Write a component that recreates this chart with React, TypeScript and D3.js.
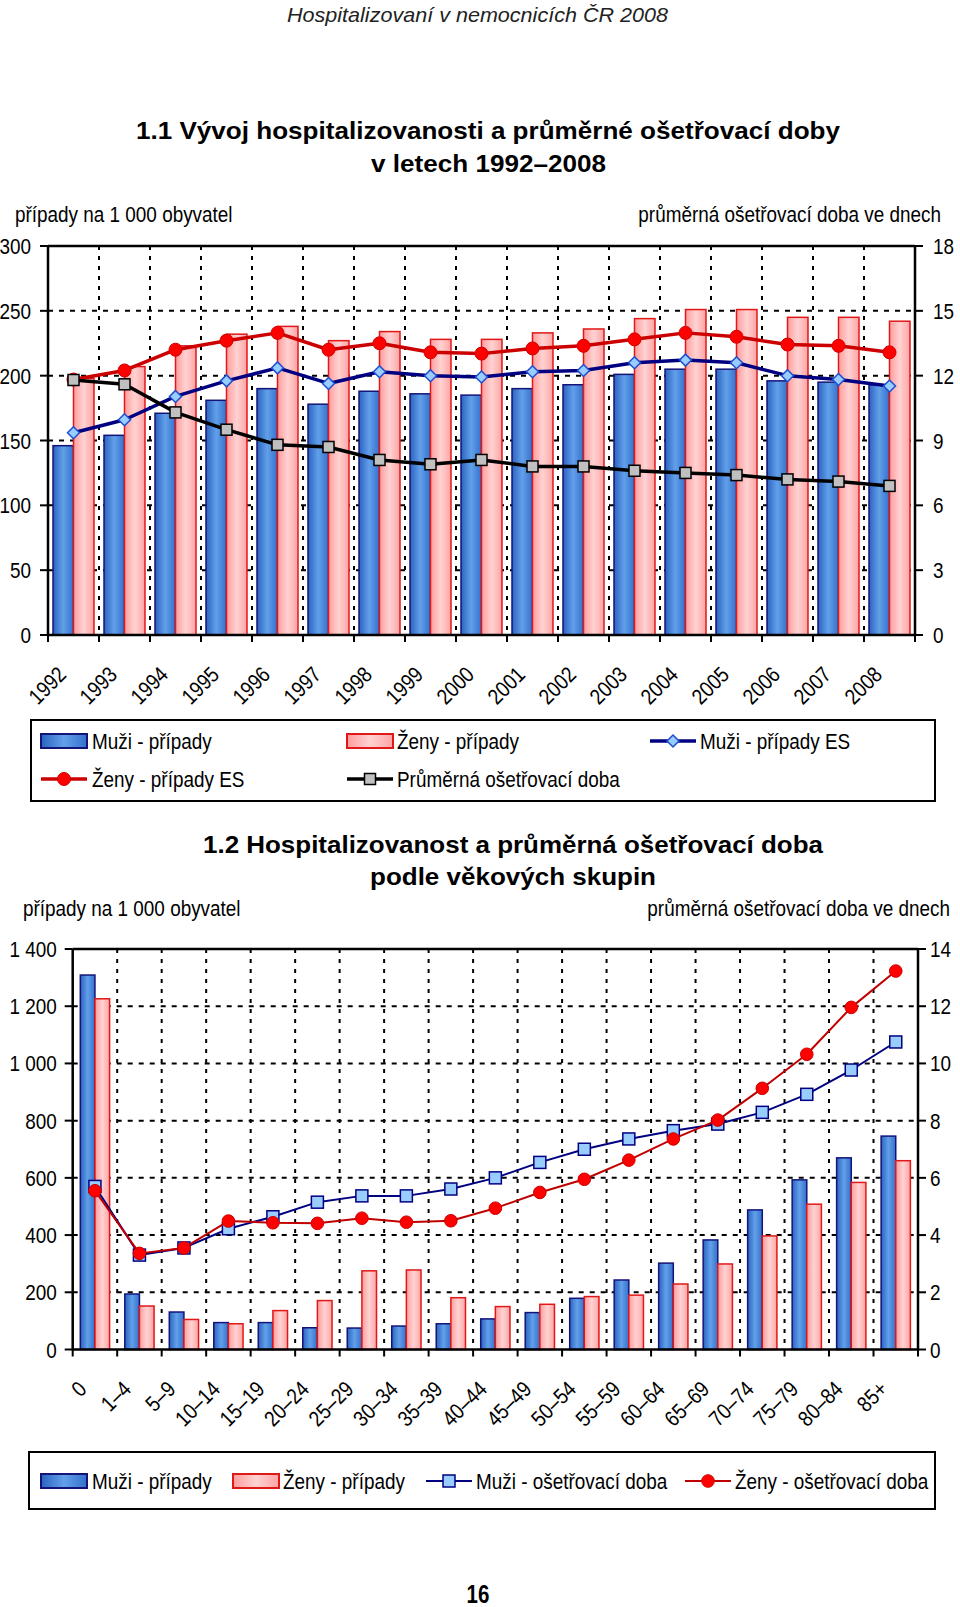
import React from 'react';
import * as d3 from 'd3';

// ---------- Data: chart 1.1 ----------
const years = ['1992','1993','1994','1995','1996','1997','1998','1999','2000','2001','2002','2003','2004','2005','2006','2007','2008'];
const muziPripady = [146,154,171,181,190,178,188,186,185,190,193,201,205,205,196,195,193];
const zenyPripady = [198,207,223,232,238,227,234,228,228,233,236,244,251,251,245,245,242];
const muziPripadyES = [156,166,184,196,206,194,203,200,199,203,204,210,212,210,200,197,192];
const zenyPripadyES = [197,204,220,227,233,220,225,218,217,221,223,228,233,230,224,223,218];
const prumernaDoba = [11.8,11.6,10.3,9.5,8.8,8.7,8.1,7.9,8.1,7.8,7.8,7.6,7.5,7.4,7.2,7.1,6.9];
const leftTicks1 = [0,50,100,150,200,250,300];
const rightTicks1 = [0,3,6,9,12,15,18];

// ---------- Data: chart 1.2 ----------
const ageGroups = ['0','1–4','5–9','10–14','15–19','20–24','25–29','30–34','35–39','40–44','45–49','50–54','55–59','60–64','65–69','70–74','75–79','80–84','85+'];
const muziPripadyVek = [1309,194,131,94,94,76,75,82,90,107,129,179,243,302,383,488,593,670,746];
const zenyPripadyVek = [1226,152,105,90,136,171,275,278,181,150,158,185,190,229,299,397,508,584,660];
const muziDobaVek = [5.7,3.3,3.55,4.22,4.64,5.15,5.37,5.37,5.61,6.0,6.54,7.0,7.36,7.65,7.88,8.29,8.92,9.77,10.75];
const zenyDobaVek = [5.55,3.36,3.55,4.49,4.43,4.41,4.59,4.45,4.5,4.94,5.49,5.95,6.62,7.36,8.02,9.13,10.32,11.96,13.23];
const leftTicks2 = [0,200,400,600,800,1000,1200,1400];
const rightTicks2 = [0,2,4,6,8,10,12,14];

const FONT = '"Liberation Sans", Arial, Helvetica, sans-serif';
const FS = 22;
const SX = 0.86;

const fmtThousands = (v: number) =>
  v >= 1000 ? `${Math.floor(v / 1000)} ${String(v % 1000).padStart(3, '0')}` : String(v);

function T(props: any) {
  const { x, y, children, anchor = 'start', size = FS, sx = SX, weight = 'normal', fontStyle = 'normal', fill = '#000', rotate = 0 } = props;
  return (
    <text
      transform={`translate(${x},${y}) rotate(${rotate}) scale(${sx},1)`}
      textAnchor={anchor}
      fontSize={size}
      fontFamily={FONT}
      fontWeight={weight}
      fontStyle={fontStyle}
      fill={fill}
    >
      {children}
    </text>
  );
}

function Marker({ type, x, y, s }: any) {
  if (type === 'diamond') {
    const h = s.size;
    return <path d={`M${x},${y - h}L${x + h},${y}L${x},${y + h}L${x - h},${y}Z`} fill={s.fill} stroke={s.stroke} strokeWidth={s.sw} />;
  }
  if (type === 'circle') {
    return <circle cx={x} cy={y} r={s.size} fill={s.fill} stroke={s.stroke} strokeWidth={s.sw} />;
  }
  const h = s.size;
  return <rect x={x - h} y={y - h} width={2 * h} height={2 * h} fill={s.fill} stroke={s.stroke} strokeWidth={s.sw} />;
}

function Chart(props: any) {
  const { cats, barsM, barsF, g, leftMax, leftTicks, rightMax, rightTicks, lines, padOuter, leftLabelDx, rightLabelDx, labelDx, labelDy } = props;
  const x = d3.scaleBand<string>().domain(cats).range([g.left, g.right]).paddingInner(0).paddingOuter(0);
  const step = x.bandwidth();
  const x1 = d3.scaleBand<string>().domain(['m', 'f']).range([0, step]).paddingInner(0).paddingOuter(padOuter);
  const yL = d3.scaleLinear().domain([0, leftMax]).range([g.bottom, g.top]);
  const yR = d3.scaleLinear().domain([0, rightMax]).range([g.bottom, g.top]);
  const boundaries = d3.range(0, cats.length + 1).map((k) => g.left + k * step);
  return (
    <g>
      {leftTicks.filter((t: number) => t > 0 && t < leftMax).map((t: number) => (
        <line key={'h' + t} x1={g.left} x2={g.right} y1={yL(t)} y2={yL(t)} stroke="#000" strokeWidth={2} strokeDasharray="5,6" />
      ))}
      {boundaries.slice(1, -1).map((bx: number, i: number) => (
        <line key={'v' + i} x1={bx} x2={bx} y1={g.top} y2={g.bottom} stroke="#000" strokeWidth={2} strokeDasharray="4,6" />
      ))}
      {cats.map((c: string, i: number) => (
        <g key={'b' + c}>
          <rect x={x(c)! + x1('m')!} y={yL(barsM[i])} width={x1.bandwidth()} height={g.bottom - yL(barsM[i])} fill="url(#gBlue)" stroke="#141478" strokeWidth={1.5} />
          <rect x={x(c)! + x1('f')!} y={yL(barsF[i])} width={x1.bandwidth()} height={g.bottom - yL(barsF[i])} fill="url(#gPink)" stroke="#e01818" strokeWidth={1.5} />
        </g>
      ))}
      {lines.map((ln: any, li: number) => {
        const sc = ln.axis === 'right' ? yR : yL;
        const gen = d3.line<number>().x((_, i) => x(cats[i])! + step / 2).y((d) => sc(d));
        return (
          <g key={'l' + li}>
            <path d={gen(ln.values) || ''} fill="none" stroke={ln.color} strokeWidth={ln.width} strokeLinejoin="round" />
            {ln.values.map((v: number, i: number) => (
              <Marker key={i} type={ln.marker} x={x(cats[i])! + step / 2} y={sc(v)} s={ln.ms} />
            ))}
          </g>
        );
      })}
      <line x1={g.left} x2={g.right} y1={g.top} y2={g.top} stroke="#000" strokeWidth={2.5} />
      <line x1={g.left} x2={g.right} y1={g.bottom} y2={g.bottom} stroke="#000" strokeWidth={2.5} />
      <line x1={g.left} x2={g.left} y1={g.top} y2={g.bottom + 1} stroke="#000" strokeWidth={2.5} />
      <line x1={g.right} x2={g.right} y1={g.top} y2={g.bottom + 1} stroke="#000" strokeWidth={2.5} />
      {leftTicks.map((t: number) => (
        <g key={'lt' + t}>
          <line x1={g.left - 8} x2={g.left} y1={yL(t)} y2={yL(t)} stroke="#000" strokeWidth={2} />
          <T x={g.left - leftLabelDx} y={yL(t) + 8} anchor="end">{fmtThousands(t)}</T>
        </g>
      ))}
      {rightTicks.map((t: number) => (
        <g key={'rt' + t}>
          <line x1={g.right} x2={g.right + 8} y1={yR(t)} y2={yR(t)} stroke="#000" strokeWidth={2} />
          <T x={g.right + rightLabelDx} y={yR(t) + 8} anchor="start">{String(t)}</T>
        </g>
      ))}
      {boundaries.map((bx: number, i: number) => (
        <line key={'bt' + i} x1={bx} x2={bx} y1={g.bottom} y2={g.bottom + 7} stroke="#000" strokeWidth={2} />
      ))}
      {cats.map((c: string) => (
        <T key={'cl' + c} x={x(c)! + step / 2 + labelDx} y={g.bottom + labelDy} anchor="end" rotate={-45}>{c}</T>
      ))}
    </g>
  );
}

function LegendSwatch({ x, y, fill, stroke }: any) {
  return <rect x={x} y={y - 7} width={46} height={14} fill={fill} stroke={stroke} strokeWidth={2} />;
}
function LegendLine({ x, y, color, width, marker, ms }: any) {
  return (
    <g>
      <line x1={x} x2={x + 46} y1={y} y2={y} stroke={color} strokeWidth={width} />
      <Marker type={marker} x={x + 23} y={y} s={ms} />
    </g>
  );
}

export default function App() {
  const g1 = { left: 48, right: 915, top: 246, bottom: 635 };
  const g2 = { left: 72.7, right: 918, top: 949, bottom: 1349.5 };

  const msDiamond = { size: 6, fill: '#99ccff', stroke: '#1e4fd0', sw: 1.5 };
  const msCircleTop = { size: 6.5, fill: '#ff0000', stroke: '#d00000', sw: 1 };
  const msSquareGray = { size: 5.5, fill: '#c0c0c0', stroke: '#000', sw: 1.5 };
  const msSquareBlue = { size: 6, fill: '#99ccff', stroke: '#000080', sw: 1.5 };
  const msCircleBot = { size: 6.3, fill: '#ff0000', stroke: '#cc0000', sw: 1 };

  const lines1 = [
    { values: muziPripadyES, axis: 'left', color: '#000080', width: 3.5, marker: 'diamond', ms: msDiamond },
    { values: zenyPripadyES, axis: 'left', color: '#cc0000', width: 3.5, marker: 'circle', ms: msCircleTop },
    { values: prumernaDoba, axis: 'right', color: '#000', width: 3.5, marker: 'square', ms: msSquareGray },
  ];
  const lines2 = [
    { values: muziDobaVek, axis: 'right', color: '#000080', width: 2, marker: 'square', ms: msSquareBlue },
    { values: zenyDobaVek, axis: 'right', color: '#c00000', width: 2, marker: 'circle', ms: msCircleBot },
  ];

  return (
    <svg width={960} height={1607} style={{ position: 'absolute', left: 0, top: 0, background: '#fff' }} fontFamily={FONT}>
      <defs>
        <linearGradient id="gBlue" x1="0" x2="1" y1="0" y2="0">
          <stop offset="0" stopColor="#2b63c0" />
          <stop offset="0.5" stopColor="#62a0ea" />
          <stop offset="1" stopColor="#3470cc" />
        </linearGradient>
        <linearGradient id="gPink" x1="0" x2="1" y1="0" y2="0">
          <stop offset="0" stopColor="#ff9c9c" />
          <stop offset="0.5" stopColor="#ffd2d2" />
          <stop offset="1" stopColor="#ffa4a4" />
        </linearGradient>
      </defs>
      <rect x={0} y={0} width={960} height={1607} fill="#fff" />

      <text x={287} y={22} fontSize={21} fontStyle="italic" fontFamily={FONT} fill="#222" textLength={381} lengthAdjust="spacingAndGlyphs">Hospitalizovaní v nemocnicích ČR 2008</text>

      <text x={136} y={138.5} fontSize={24.5} fontWeight="bold" fontFamily={FONT} textLength={704} lengthAdjust="spacingAndGlyphs">1.1 Vývoj hospitalizovanosti a průměrné ošetřovací doby</text>
      <text x={371} y={171.5} fontSize={24.5} fontWeight="bold" fontFamily={FONT} textLength={235} lengthAdjust="spacingAndGlyphs">v letech 1992–2008</text>
      <T x={15} y={222}>případy na 1 000 obyvatel</T>
      <T x={941} y={222} anchor="end">průměrná ošetřovací doba ve dnech</T>

      <Chart cats={years} barsM={muziPripady} barsF={zenyPripady} g={g1} leftMax={300} leftTicks={leftTicks1} rightMax={18} rightTicks={rightTicks1}
        lines={lines1} padOuter={0.244} leftLabelDx={17} rightLabelDx={18} labelDx={-6} labelDy={41} />

      <rect x={31} y={720} width={904} height={81} fill="#fff" stroke="#000" strokeWidth={2} />
      <LegendSwatch x={41} y={741} fill="url(#gBlue)" stroke="#141478" />
      <T x={92} y={749}>Muži - případy</T>
      <LegendSwatch x={347} y={741} fill="url(#gPink)" stroke="#e01818" />
      <T x={397} y={749}>Ženy - případy</T>
      <LegendLine x={650} y={741} color="#000080" width={3.5} marker="diamond" ms={msDiamond} />
      <T x={700} y={749}>Muži - případy ES</T>
      <LegendLine x={41} y={779} color="#cc0000" width={3.5} marker="circle" ms={msCircleTop} />
      <T x={92} y={787}>Ženy - případy ES</T>
      <LegendLine x={347} y={779} color="#000" width={3.5} marker="square" ms={msSquareGray} />
      <T x={397} y={787}>Průměrná ošetřovací doba</T>

      <text x={203} y={853} fontSize={24} fontWeight="bold" fontFamily={FONT} textLength={620} lengthAdjust="spacingAndGlyphs">1.2 Hospitalizovanost a průměrná ošetřovací doba</text>
      <text x={370} y={885} fontSize={24} fontWeight="bold" fontFamily={FONT} textLength={286} lengthAdjust="spacingAndGlyphs">podle věkových skupin</text>
      <T x={23} y={916}>případy na 1 000 obyvatel</T>
      <T x={950} y={916} anchor="end">průměrná ošetřovací doba ve dnech</T>

      <Chart cats={ageGroups} barsM={muziPripadyVek} barsF={zenyPripadyVek} g={g2} leftMax={1400} leftTicks={leftTicks2} rightMax={14} rightTicks={rightTicks2}
        lines={lines2} padOuter={0.52} leftLabelDx={16} rightLabelDx={12} labelDx={-7} labelDy={41} />

      <rect x={29} y={1452} width={906} height={57} fill="#fff" stroke="#000" strokeWidth={2} />
      <LegendSwatch x={41} y={1481} fill="url(#gBlue)" stroke="#141478" />
      <T x={92} y={1489}>Muži - případy</T>
      <LegendSwatch x={233} y={1481} fill="url(#gPink)" stroke="#e01818" />
      <T x={283} y={1489}>Ženy - případy</T>
      <LegendLine x={426} y={1481} color="#000080" width={2} marker="square" ms={msSquareBlue} />
      <T x={476} y={1489}>Muži - ošetřovací doba</T>
      <LegendLine x={685} y={1481} color="#c00000" width={2} marker="circle" ms={msCircleBot} />
      <T x={735} y={1489}>Ženy - ošetřovací doba</T>

      <T x={478} y={1603} anchor="middle" size={25} sx={0.82} weight="bold">16</T>
    </svg>
  );
}
